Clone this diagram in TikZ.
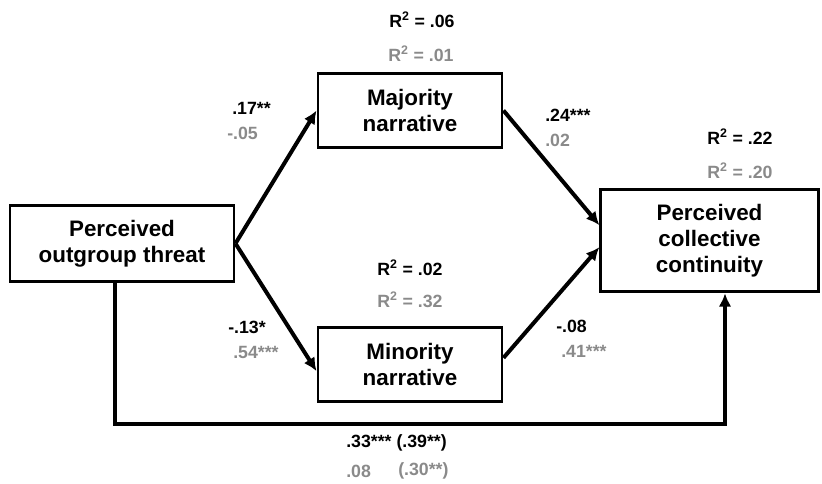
\documentclass[tikz,border=0pt]{standalone}
\usepackage{fontspec}
\setmainfont{Liberation Sans}
\usetikzlibrary{arrows.meta,positioning}
\definecolor{lgray}{RGB}{138,138,138}

\begin{document}
\begin{tikzpicture}[x=0.75pt,y=-0.75pt,>={Latex[length=10pt,width=9.5pt]},
    box/.style={draw,line width=2.2pt,align=center,inner sep=0pt,
      font=\fontsize{16.8}{19.5}\selectfont\bfseries},
    link/.style={->,line width=3pt},
    coef/.style={inner sep=0pt,font=\fontsize{13.3}{15}\selectfont\bfseries},
    grey/.style={coef,text=lgray}]
  \useasboundingbox (0,0) rectangle (822,484);
  % boxes
  \node[box,minimum width=168pt,minimum height=57pt] (threat) at (122,243.5) {Perceived\\outgroup threat};
  \node[box,minimum width=138pt,minimum height=56pt] (major) at (410,110.5) {Majority\\narrative};
  \node[box,minimum width=138pt,minimum height=56pt] (minor) at (410,364.5) {Minority\\narrative};
  \node[box,minimum width=163pt,minimum height=77pt] (contin) at (709.5,240.5) {Perceived\\collective\\continuity};
  % paths
  \draw[link] (threat.east) -- (major.west);
  \draw[link] (threat.east) -- ([yshift=-5pt]minor.west);
  \draw[link] (major.east) -- ([yshift=11.5pt]contin.west);
  \draw[link] ([yshift=5pt]minor.east) -- ([yshift=-5pt]contin.west);
  \coordinate (dl) at (115,424);
  \coordinate (dr) at (725,424);
  \draw[link] (dl |- threat.south) -- (dl) -- (dr) -- (dr |- contin.south);
  % coefficients
  \node[coef,anchor=west] (c1) at (232,108) {.17**};
  \node[grey,anchor=west] (g1) at (227,133) {-.05};
  \node[coef,anchor=west] (c2) at (545,115) {.24***};
  \node[grey,anchor=west] (g2) at (545,140) {.02};
  \node[coef,anchor=west] (c3) at (228,327) {-.13*};
  \node[grey,anchor=west] (g3) at (233,352) {.54***};
  \node[coef,anchor=west] (c4) at (556,326) {-.08};
  \node[grey,anchor=west] (g4) at (561,351) {.41***};
  \node[coef,anchor=west] (c5) at (346,443) {.33*** (.39**)};
  \node[grey,anchor=west] (g5) at (346,471) {.08};
  \node[grey,anchor=west] (g6) at (398,471) {(.30**)};
  % explained variance
  \node[coef] (r1) at (422,20) {R\textsuperscript{2} = .06};
  \node[grey] (r2) at (421,54) {R\textsuperscript{2} = .01};
  \node[coef] (r3) at (410,268) {R\textsuperscript{2} = .02};
  \node[grey] (r4) at (410,300) {R\textsuperscript{2} = .32};
  \node[coef] (r5) at (740,137) {R\textsuperscript{2} = .22};
  \node[grey] (r6) at (740,171) {R\textsuperscript{2} = .20};
\end{tikzpicture}
\end{document}
